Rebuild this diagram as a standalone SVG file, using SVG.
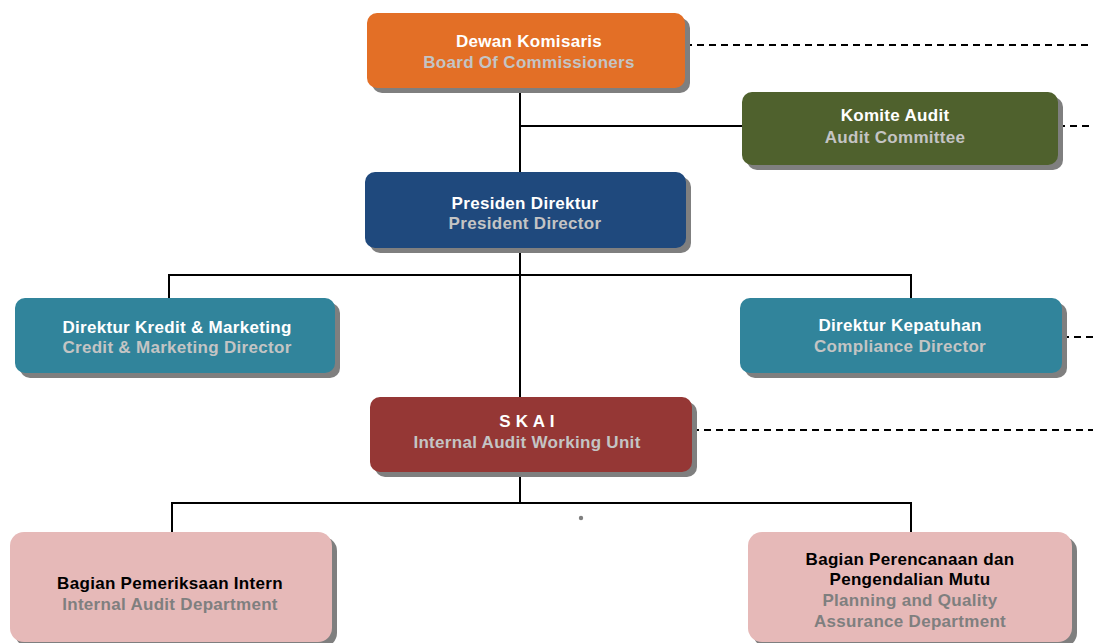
<svg xmlns="http://www.w3.org/2000/svg" width="1093" height="643" viewBox="0 0 1093 643">
<style>
.sh{fill:#7f7f7f}
.t{font-family:"Liberation Sans",Arial,sans-serif;font-weight:bold;font-size:17px;text-anchor:middle;letter-spacing:0.3px}
.w{fill:#ffffff}
.g{fill:#c4c4c4}
.k{fill:#000000}
.d{fill:#7f7f7f}
.ln{stroke:#000;stroke-width:2;fill:none}
.ds{stroke:#000;stroke-width:2;fill:none;stroke-dasharray:7 5}
</style>
<rect width="1093" height="643" fill="#ffffff"/>
<g id="connectors">
<line class="ln" x1="520" y1="88" x2="520" y2="397"/>
<line class="ln" x1="520" y1="126" x2="742" y2="126"/>
<polyline class="ln" points="169,299 169,275 911,275 911,298"/>
<line class="ln" x1="520" y1="472" x2="520" y2="503"/>
<polyline class="ln" points="172,532 172,503 911,503 911,532"/>
<line class="ds" x1="685" y1="45" x2="1093" y2="45"/>
<line class="ds" x1="1058" y1="126" x2="1093" y2="126"/>
<line class="ds" x1="1062" y1="337" x2="1093" y2="337"/>
<line class="ds" x1="692" y1="430" x2="1093" y2="430"/>
<circle cx="581" cy="518" r="2.2" fill="#7f7f7f"/>
</g>
<g id="dewan">
<rect class="sh" x="372" y="18" width="318" height="75" rx="10"/>
<rect x="367" y="13" width="318" height="75" rx="10" fill="#e36f26"/>
<text class="t w" x="529" y="47">Dewan Komisaris</text>
<text class="t g" x="529" y="68">Board Of Commissioners</text>
</g>
<g id="komite">
<rect class="sh" x="747" y="97" width="316" height="73" rx="10"/>
<rect x="742" y="92" width="316" height="73" rx="10" fill="#4f612d"/>
<text class="t w" x="895" y="121">Komite Audit</text>
<text class="t g" x="895" y="143">Audit Committee</text>
</g>
<g id="presiden">
<rect class="sh" x="370" y="177" width="321" height="76" rx="10"/>
<rect x="365" y="172" width="321" height="76" rx="10" fill="#1f497d"/>
<text class="t w" x="525" y="209">Presiden Direktur</text>
<text class="t g" x="525" y="229">President Director</text>
</g>
<g id="kredit">
<rect class="sh" x="20" y="303" width="320" height="75" rx="10"/>
<rect x="15" y="298" width="320" height="75" rx="10" fill="#31849b"/>
<text class="t w" x="177" y="333">Direktur Kredit &amp; Marketing</text>
<text class="t g" x="177" y="353">Credit &amp; Marketing Director</text>
</g>
<g id="kepatuhan">
<rect class="sh" x="745" y="303" width="322" height="75" rx="10"/>
<rect x="740" y="298" width="322" height="75" rx="10" fill="#31849b"/>
<text class="t w" x="900" y="331">Direktur Kepatuhan</text>
<text class="t g" x="900" y="352">Compliance Director</text>
</g>
<g id="skai">
<rect class="sh" x="375" y="402" width="322" height="75" rx="10"/>
<rect x="370" y="397" width="322" height="75" rx="10" fill="#953735"/>
<text class="t w" x="527" y="427">S K A I</text>
<text class="t g" x="527" y="448">Internal Audit Working Unit</text>
</g>
<g id="pemeriksaan">
<rect class="sh" x="15" y="537" width="322" height="110" rx="14"/>
<rect x="10" y="532" width="322" height="110" rx="14" fill="#e6b9b8"/>
<text class="t k" x="170" y="589">Bagian Pemeriksaan Intern</text>
<text class="t d" x="170" y="610">Internal Audit Department</text>
</g>
<g id="perencanaan">
<rect class="sh" x="753" y="537" width="324" height="110" rx="14"/>
<rect x="748" y="532" width="324" height="110" rx="14" fill="#e6b9b8"/>
<text class="t k" x="910" y="565">Bagian Perencanaan dan</text>
<text class="t k" x="910" y="585">Pengendalian Mutu</text>
<text class="t d" x="910" y="606">Planning and Quality</text>
<text class="t d" x="910" y="627">Assurance Department</text>
</g>
</svg>
